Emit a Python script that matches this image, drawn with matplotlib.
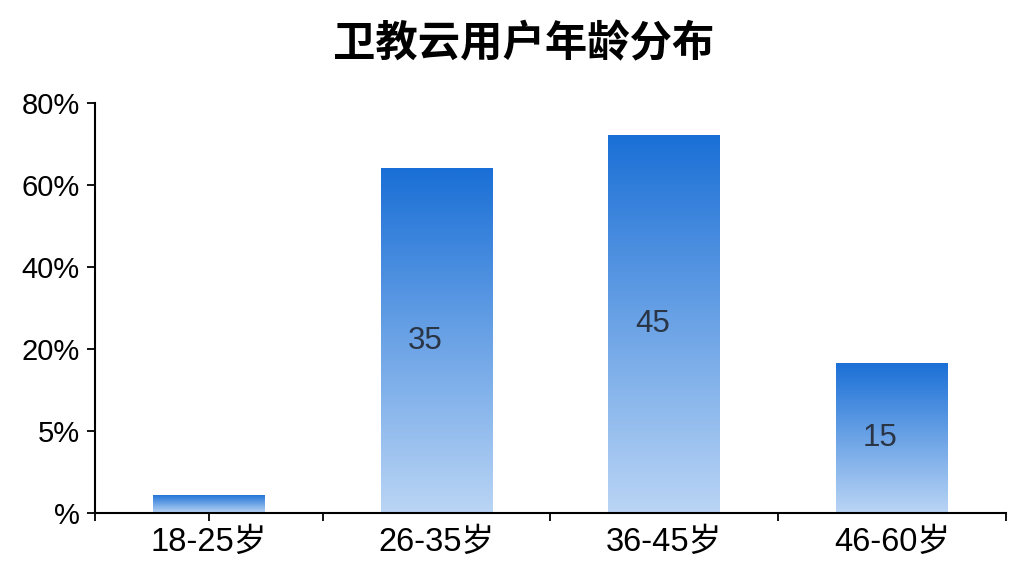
import numpy as np
import matplotlib
matplotlib.use("Agg")
import matplotlib.pyplot as plt
from matplotlib.colors import LinearSegmentedColormap

plt.rcParams['font.family'] = ['Liberation Sans', 'Noto Sans CJK SC', 'DejaVu Sans']

# data (bar heights in axis units, 0-100 scale)
categories = ["18-25岁", "26-35岁", "36-45岁", "46-60岁"]
bar_heights = [4.4, 84.1, 92.2, 36.6]
bar_texts = ["", "35", "45", "15"]
ytick_vals = [0, 20, 40, 60, 80, 100]
ytick_labels = ["%", "5%", "20%", "40%", "60%", "80%"]
xtick_marks = [-0.5, 0, 0.5, 1.5, 2.5, 3.5]
title = "卫教云用户年龄分布"

fig = plt.figure(figsize=(10.24, 5.76), dpi=100)
fig.patch.set_facecolor("white")
ax = fig.add_axes([0.0928, 0.1094, 0.8892, 0.7118])

x = np.arange(len(categories))
width = 0.49
bars = ax.bar(x, bar_heights, width=width, color="none", edgecolor="none", zorder=2)

# vertical gradient: dark blue at top, pale blue at bottom
cmap = LinearSegmentedColormap.from_list("blu", ["#bad5f5", "#6ba3e6", "#1a6fd6"])
grad = np.linspace(0, 1, 256).reshape(-1, 1)
for b in bars:
    x0, y0 = b.get_x(), b.get_y()
    w, h = b.get_width(), b.get_height()
    im = ax.imshow(grad, cmap=cmap, aspect="auto", origin="lower",
                   extent=[x0, x0 + w, y0, y0 + h], zorder=2)
    im.set_clip_path(b)

for xi, h, t in zip(x, bar_heights, bar_texts):
    if t:
        ax.text(xi - 0.05, h * 0.5, t, ha="center", va="center",
                fontsize=22.5, color="#2a3545", zorder=3)

ax.set_xlim(-0.5, 3.5)
ax.set_ylim(0, 100)
ax.set_yticks(ytick_vals)
ax.set_yticklabels(ytick_labels, fontsize=21)

# tick marks sit at odd places in the original; labels go under bar centres
ax.set_xticks(xtick_marks)
ax.set_xticklabels([""] * len(xtick_marks))
ax.tick_params(axis="x", length=6, width=1.3, direction="out")
for xi, lab in zip(x, categories):
    ax.text(xi, -0.035, lab, transform=ax.get_xaxis_transform(),
            ha="center", va="top", fontsize=23.5)
ax.tick_params(axis="y", length=6, width=1.3, direction="out", pad=5)

for s in ["top", "right"]:
    ax.spines[s].set_visible(False)
for s in ["left", "bottom"]:
    ax.spines[s].set_linewidth(1.5)
ax.set_facecolor("white")

fig.text(0.511, 0.923, title, ha="center", va="center", fontsize=30.5,
         fontweight="bold", family=['Noto Sans CJK SC', 'DejaVu Sans'])

fig.savefig("out.png", dpi=100, facecolor="white")
